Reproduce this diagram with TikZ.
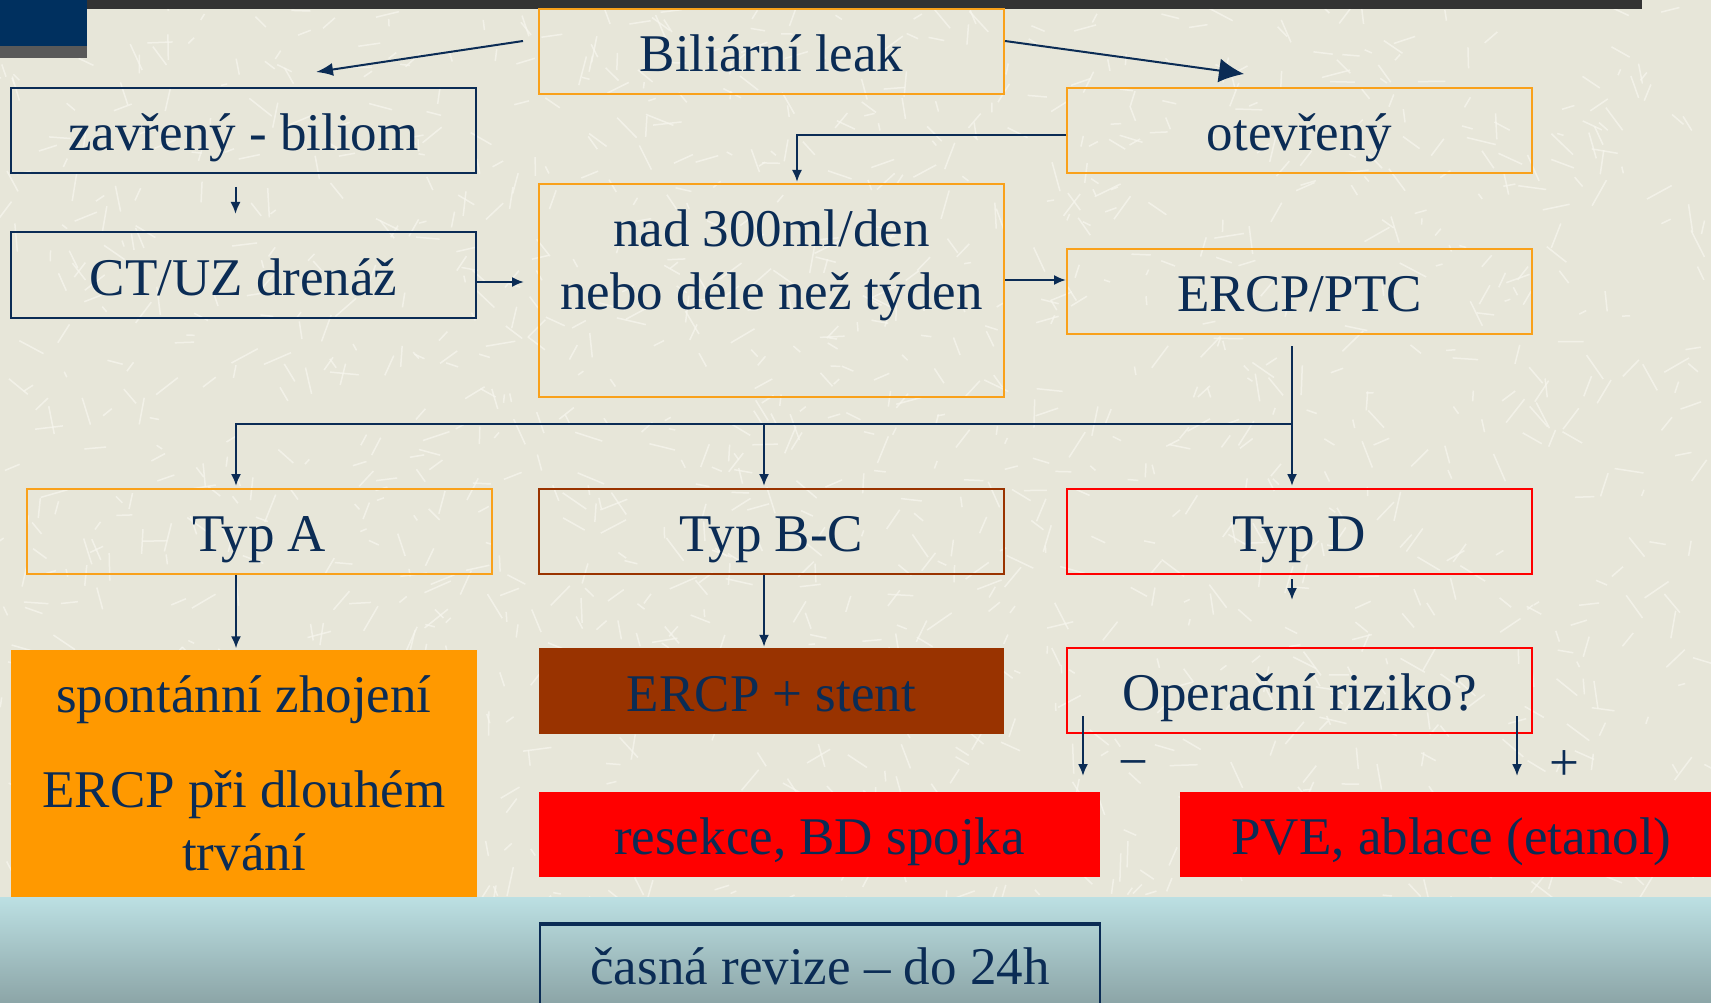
\documentclass[tikz,border=0pt]{standalone}
\usepackage{fontspec}
\setmainfont{Liberation Serif}
\usetikzlibrary{arrows.meta}
\definecolor{navy}{HTML}{0B2C55}
\definecolor{bgbeige}{HTML}{E7E6D9}
\definecolor{scratch}{HTML}{F7F6EE}
\definecolor{orangeline}{HTML}{F9A11B}
\definecolor{orangefill}{HTML}{FF9900}
\definecolor{brownc}{HTML}{993300}
\definecolor{redc}{HTML}{FF0000}
\definecolor{bandtop}{HTML}{BCE0E3}
\definecolor{bandbot}{HTML}{8CA5A7}
\definecolor{topbar}{HTML}{333333}
\definecolor{cornerblue}{HTML}{00305F}
\begin{document}
\begin{tikzpicture}[x=1pt,y=-1pt,
  big/.style={font=\fontsize{53}{63}\selectfont, text=navy},
  one/.style={text height=45pt, text depth=5pt},
  box/.style={big, one, draw, line width=2pt, minimum width=465pt, minimum height=85pt, inner sep=0pt},
  obox/.style={box, draw=orangeline},
  nbox/.style={box, draw=navy},
  rbox/.style={box, draw=redc},
  arr/.style={draw=navy, line width=2pt, -{Latex[length=12pt,width=10pt]}},
  ln/.style={draw=navy, line width=2pt}]
\useasboundingbox (0,0) rectangle (1711,1003);
\clip (0,0) rectangle (1711,1003);
% background
\fill[bgbeige] (0,0) rectangle (1711,897);
\begin{scope}
\clip (0,0) rectangle (1711,897);
\pgfmathsetseed{7}
\foreach \i in {1,...,1400}{
  \pgfmathsetmacro{\px}{rnd*1711}
  \pgfmathsetmacro{\py}{rnd*897}
  \pgfmathsetmacro{\ang}{rnd*180}
  \pgfmathsetmacro{\len}{6+rnd*24}
  \draw[scratch, line width=1.5pt, opacity=0.75] (\px,\py) -- ++(\ang:\len);
}
\end{scope}
\shade[top color=bandtop, bottom color=bandbot] (0,897) rectangle (1711,1003);
% top decorations
\fill[topbar] (87,0) rectangle (1642,9);
\fill[cornerblue] (0,0) rectangle (87,46);
\fill[gray!70!black] (0,46) rectangle (87,58);

% boxes
\node[obox] (leak) at (771.5,51.5) {Biliární leak};
\node[nbox] (zav) at (243.5,130.5) {zavřený - biliom};
\node[obox] (otev) at (1299.5,130.5) {otevřený};
\node[nbox, minimum height=86pt] (ct) at (243.5,275) {CT/UZ drenáž};
\node[obox, minimum height=213pt] (nad) at (771.5,290.5) {};
\node[big, align=center] (nadtext) at (771.5,265) {nad 300ml/den\\nebo déle než týden};
\node[obox] (ercp) at (1299.5,291.5) {ERCP/PTC};
\node[obox] (typA) at (259.5,531.5) {Typ A};
\node[box, draw=brownc] (typBC) at (771.5,531.5) {Typ B-C};
\node[rbox] (typD) at (1299.5,531.5) {Typ D};
\node[big, fill=orangefill, minimum width=466pt, minimum height=247pt, inner sep=0pt, align=center] (spont) at (244,773) {spontánní zhojení\\[32pt]ERCP při dlouhém\\trvání};
\node[big, one, fill=brownc, minimum width=465pt, minimum height=86pt, inner sep=0pt] (stent) at (771.5,691) {ERCP + stent};
\node[rbox] (oper) at (1299.5,690.5) {Operační riziko?};
\node[big, one, fill=redc, minimum width=561pt, minimum height=85pt, inner sep=0pt] (res) at (819.5,834.5) {resekce, BD spojka};
\node[big, one, fill=redc, minimum width=531pt, minimum height=85pt, inner sep=0pt] (pve) at (1445.5,834.5) {\hspace{12pt}PVE, ablace (etanol)};
\node[draw=navy, line width=1.5pt, minimum width=560pt, minimum height=110pt, inner sep=0pt, anchor=north] (cas) at (820,922) {};
\draw[navy, line width=1.5pt] ([shift={(0,3)}]cas.north west) -- ([shift={(0,3)}]cas.north east);
\node[big] (castext) at (820,966) {časná revize – do 24h};

% connectors
\coordinate (ctend) at (524,282);
\draw[navy, line width=2pt, -{Latex[length=17pt,width=13pt]}] ([shift={(-15,-10.5)}]leak.west) -- (316,72);
\draw[navy, line width=2pt, -{Latex[length=25pt,width=24pt]}] ([shift={(0,-10.5)}]leak.east) -- (1244,74);
\draw[arr] ([shift={(-8,13)}]zav.south) -- ([shift={(-8,-17)}]ct.north);
\draw[arr] (ct.east |- ctend) -- (ctend);
\draw[arr] ([shift={(0,5)}]otev.west) -| ([shift={(25.5,-1)}]nad.north);
\draw[arr] ([shift={(0,-10.5)}]nad.east) -- ([shift={(0,-11.5)}]ercp.west);
\coordinate (br) at (1292,424);
\draw[arr] ([shift={(-7.5,11)}]ercp.south) -- ([shift={(-7.5,-2)}]typD.north);
\draw[arr] (br) -| ([shift={(-23.5,-2)}]typA.north);
\draw[arr] (br -| typBC.north) ++(-7.5,0) -- ([shift={(-7.5,-2)}]typBC.north);
\draw[arr] ([shift={(-23.5,0)}]typA.south) -- ([shift={(-23.5,-1)}]typA.south |- spont.north);
\draw[arr] ([shift={(-7.5,0)}]typBC.south) -- ([shift={(-7.5,-1)}]stent.north);
\draw[arr] ([shift={(-7.5,4)}]typD.south) -- ([shift={(-7.5,25)}]typD.south);
\draw[arr] ([shift={(17,-18)}]oper.south west) -- ([shift={(17,42)}]oper.south west);
\draw[arr] ([shift={(-16,-18)}]oper.south east) -- ([shift={(-16,42)}]oper.south east);
\node[big] (minus) at (1133,770) {−};
\node[big] (plus) at (1564,766) {+};
\end{tikzpicture}
\end{document}
